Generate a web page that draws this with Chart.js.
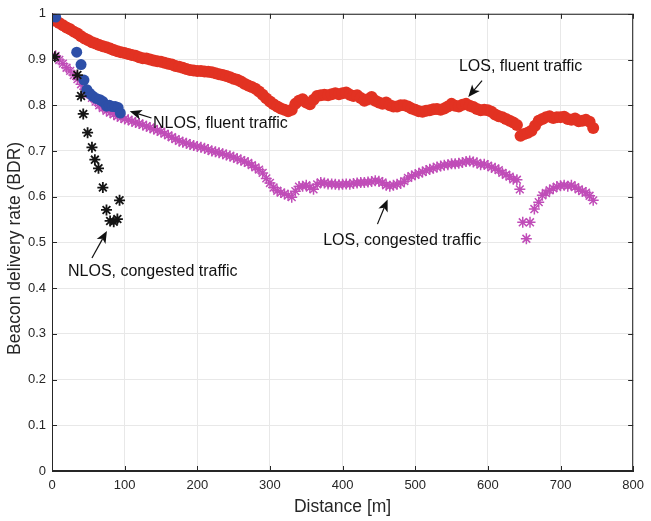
<!DOCTYPE html>
<html>
<head>
<meta charset="utf-8">
<script src="https://cdn.jsdelivr.net/npm/chart.js@4.4.1/dist/chart.umd.min.js"></script>
<style>
  html, body { margin: 0; padding: 0; background: #ffffff; }
  #bdr { display: block; }
</style>
</head>
<body>
<canvas id="bdr" width="651" height="521"></canvas>
<script>
// ---- dados ----
// LOS, fluent traffic (círculos vermelhos)
const losFluentDist = [
  0,5,10,15,20,25,30,35,40,45,
  50,55,60,65,70,75,80,85,90,95,
  100,105,110,115,120,125,130,135,140,145,
  150,155,160,165,170,175,180,185,190,195,
  200,205,210,215,220,225,230,235,240,245,
  250,255,260,265,270,275,280,285,290,295,
  300,305,310,315,320,325,330,335,340,345,
  350,355,360,365,370,375,380,385,390,395,
  400,405,410,415,420,425,430,435,440,445,
  450,455,460,465,470,475,480,485,490,495,
  500,505,510,515,520,525,530,535,540,545,
  550,555,560,565,570,575,580,585,590,595,
  600,605,610,615,620,625,630,635,640,645,
  650,655,660,665,670,675,680,685,690,695,
  700,705,710,715,720,725,730,735,740,745
];
const losFluentBdr = [
  0.990,0.985,0.980,0.975,0.970,0.966,0.961,0.957,0.951,0.946,
  0.942,0.938,0.935,0.932,0.929,0.927,0.924,0.921,0.918,0.916,
  0.914,0.912,0.910,0.908,0.905,0.903,0.902,0.900,0.898,0.896,
  0.895,0.893,0.891,0.889,0.886,0.884,0.882,0.879,0.877,0.876,
  0.875,0.875,0.874,0.873,0.872,0.870,0.868,0.866,0.864,0.861,
  0.858,0.856,0.852,0.847,0.843,0.840,0.836,0.830,0.823,0.815,
  0.808,0.802,0.797,0.793,0.790,0.787,0.790,0.803,0.810,0.813,
  0.806,0.802,0.812,0.820,0.822,0.823,0.822,0.824,0.826,0.824,
  0.826,0.828,0.823,0.820,0.822,0.816,0.810,0.813,0.818,0.810,
  0.806,0.803,0.806,0.800,0.797,0.797,0.800,0.800,0.797,0.793,
  0.790,0.787,0.786,0.788,0.789,0.791,0.792,0.790,0.793,0.797,
  0.803,0.799,0.797,0.801,0.803,0.799,0.796,0.792,0.789,0.790,
  0.789,0.786,0.780,0.776,0.774,0.770,0.766,0.762,0.757,0.733,
  0.737,0.740,0.744,0.755,0.766,0.770,0.774,0.776,0.772,0.774,
  0.774,0.775,0.770,0.768,0.771,0.765,0.766,0.768,0.764,0.750
];

// LOS, congested traffic (asteriscos roxos)
const losCongDist = [
  5,10,15,20,25,30,35,40,45,50,
  55,60,65,70,75,80,85,90,95,100,
  105,110,115,120,125,130,135,140,145,150,
  155,160,165,170,175,180,185,190,195,200,
  205,210,215,220,225,230,235,240,245,250,
  255,260,265,270,275,280,285,290,295,300,
  305,310,315,320,325,330,335,340,345,350,
  355,360,365,370,375,380,385,390,395,400,
  405,410,415,420,425,430,435,440,445,450,
  455,460,465,470,475,480,485,490,495,500,
  505,510,515,520,525,530,535,540,545,550,
  555,560,565,570,575,580,585,590,595,600,
  605,610,615,620,625,630,635,640,
  644,648,653,658,664,670,
  675,680,685,690,695,700,705,710,715,720,725,730,735,740,745
];
const losCongBdr = [
  0.908,0.899,0.891,0.882,0.875,0.866,0.857,0.846,0.835,0.825,
  0.816,0.808,0.800,0.794,0.788,0.784,0.780,0.776,0.773,0.770,
  0.768,0.765,0.762,0.760,0.757,0.754,0.751,0.748,0.745,0.742,
  0.738,0.734,0.730,0.726,0.722,0.719,0.717,0.714,0.712,0.710,
  0.708,0.706,0.703,0.700,0.698,0.696,0.694,0.691,0.689,0.686,
  0.683,0.680,0.677,0.674,0.669,0.664,0.659,0.652,0.640,0.630,
  0.620,0.613,0.609,0.606,0.603,0.599,0.612,0.622,0.623,0.625,
  0.620,0.616,0.627,0.631,0.630,0.628,0.628,0.627,0.626,0.627,
  0.628,0.627,0.629,0.630,0.631,0.631,0.632,0.633,0.635,0.634,
  0.631,0.625,0.623,0.625,0.627,0.629,0.634,0.641,0.645,0.648,
  0.651,0.654,0.657,0.660,0.662,0.665,0.667,0.669,0.670,0.672,
  0.672,0.673,0.675,0.677,0.678,0.676,0.674,0.670,0.671,0.668,
  0.664,0.662,0.658,0.652,0.648,0.644,0.638,0.637,
  0.616,0.544,0.508,0.544,0.573,0.588,
  0.603,0.608,0.614,0.618,0.622,0.624,0.625,0.623,0.625,0.621,0.616,0.612,0.609,0.602,0.592
];

// NLOS, fluent traffic (círculos azuis)
const nlosFluentDist = [5, 34, 40, 44, 48, 52, 56, 61, 66, 70, 75, 79, 83, 87, 91, 94];
const nlosFluentBdr = [0.993, 0.916, 0.889, 0.855, 0.834, 0.826, 0.820, 0.815, 0.812, 0.808, 0.798, 0.800, 0.797, 0.797, 0.795, 0.783];

// NLOS, congested traffic (asteriscos pretos)
const nlosCongDist = [4, 35, 40, 43, 49, 55, 59, 64, 70, 75, 80, 85, 90, 93];
const nlosCongBdr = [0.906, 0.866, 0.820, 0.781, 0.740, 0.708, 0.681, 0.662, 0.620, 0.571, 0.547, 0.545, 0.551, 0.592];

// rótulos das curvas (texto + seta), em unidades do gráfico
const curveLabels = [
  { text: 'NLOS, fluent traffic',    tx: 139, ty: 0.759, align: 'left',   ax1: 137, ay1: 0.772, ax2: 107, ay2: 0.787 },
  { text: 'LOS, fluent traffic',     tx: 645, ty: 0.885, align: 'center', ax1: 592, ay1: 0.854, ax2: 573, ay2: 0.818 },
  { text: 'LOS, congested traffic',  tx: 482, ty: 0.505, align: 'center', ax1: 448, ay1: 0.540, ax2: 462, ay2: 0.594 },
  { text: 'NLOS, congested traffic', tx: 22,  ty: 0.436, align: 'left',   ax1: 55,  ay1: 0.466, ax2: 75.6, ay2: 0.525 }
];

const xTicks = [0, 100, 200, 300, 400, 500, 600, 700, 800];
const yTicks = [0, 0.1, 0.2, 0.3, 0.4, 0.5, 0.6, 0.7, 0.8, 0.9, 1];

function toPoints(xs, ys) {
  return xs.map((x, i) => ({ x: x, y: ys[i] }));
}

// seta no estilo do matlab
function drawArrow(ctx, x1, y1, x2, y2) {
  const ang = Math.atan2(y2 - y1, x2 - x1);
  const L = 12, W = 5, N = 3;
  const cx = Math.cos(ang), sy = Math.sin(ang);
  ctx.beginPath();
  ctx.moveTo(x1, y1);
  ctx.lineTo(x2 - cx * (L - N), y2 - sy * (L - N));
  ctx.stroke();
  ctx.beginPath();
  ctx.moveTo(x2, y2);
  ctx.lineTo(x2 - cx * L - sy * W, y2 - sy * L + cx * W);
  ctx.lineTo(x2 - cx * (L - N), y2 - sy * (L - N));
  ctx.lineTo(x2 - cx * L + sy * W, y2 - sy * L - cx * W);
  ctx.closePath();
  ctx.fill();
}

const moldura = {
  id: 'moldura',
  afterDraw(chart) {
    const ctx = chart.ctx;
    const a = chart.chartArea;
    const xs = chart.scales.x, ys = chart.scales.y;
    ctx.save();
    ctx.strokeStyle = '#262626';
    ctx.lineWidth = 1;
    ctx.strokeRect(a.left + 0.5, a.top + 0.5, a.right - a.left - 1, a.bottom - a.top - 1);

    // marcas internas nos quatro lados
    ctx.beginPath();
    xTicks.forEach(v => {
      const p = Math.round(xs.getPixelForValue(v)) + 0.5;
      ctx.moveTo(p, a.bottom); ctx.lineTo(p, a.bottom - 5);
      ctx.moveTo(p, a.top); ctx.lineTo(p, a.top + 5);
    });
    yTicks.forEach(v => {
      const p = Math.round(ys.getPixelForValue(v)) + 0.5;
      ctx.moveTo(a.left, p); ctx.lineTo(a.left + 5, p);
      ctx.moveTo(a.right, p); ctx.lineTo(a.right - 5, p);
    });
    ctx.stroke();

    // títulos dos eixos
    ctx.fillStyle = '#262626';
    ctx.font = '17.5px "Liberation Sans", Arial, sans-serif';
    ctx.textAlign = 'center';
    ctx.textBaseline = 'middle';
    ctx.fillText('Distance [m]', (a.left + a.right) / 2, 507);
    ctx.save();
    ctx.translate(15, (a.top + a.bottom) / 2 + 6);
    ctx.rotate(-Math.PI / 2);
    ctx.fillText('Beacon delivery rate (BDR)', 0, 0);
    ctx.restore();

    // rótulos das curvas
    ctx.fillStyle = '#111111';
    ctx.strokeStyle = '#111111';
    ctx.lineWidth = 1.2;
    ctx.font = '16px "Liberation Sans", Arial, sans-serif';
    curveLabels.forEach(l => {
      ctx.textAlign = l.align;
      ctx.fillText(l.text, xs.getPixelForValue(l.tx), ys.getPixelForValue(l.ty));
      drawArrow(ctx,
        xs.getPixelForValue(l.ax1), ys.getPixelForValue(l.ay1),
        xs.getPixelForValue(l.ax2), ys.getPixelForValue(l.ay2));
    });
    ctx.restore();
  }
};

const ctxBdr = document.getElementById('bdr').getContext('2d');
const chartBdr = new Chart(ctxBdr, {
  type: 'scatter',
  data: {
    datasets: [
      {
        label: 'NLOS, congested traffic',
        data: toPoints(nlosCongDist, nlosCongBdr),
        pointStyle: 'star',
        pointRadius: 5.5,
        pointBorderWidth: 1.8,
        borderColor: '#151515',
        backgroundColor: '#151515',
        order: 0
      },
      {
        label: 'NLOS, fluent traffic',
        data: toPoints(nlosFluentDist, nlosFluentBdr),
        pointStyle: 'circle',
        pointRadius: 5.5,
        pointBorderWidth: 0,
        borderColor: '#2d4fa8',
        backgroundColor: '#2d4fa8',
        order: 1
      },
      {
        label: 'LOS, congested traffic',
        data: toPoints(losCongDist, losCongBdr),
        pointStyle: 'star',
        pointRadius: 5.5,
        pointBorderWidth: 1.5,
        borderColor: '#c04db8',
        backgroundColor: '#c04db8',
        order: 2
      },
      {
        label: 'LOS, fluent traffic',
        data: toPoints(losFluentDist, losFluentBdr),
        pointStyle: 'circle',
        pointRadius: 6,
        pointBorderWidth: 0,
        borderColor: '#e23222',
        backgroundColor: '#e23222',
        order: 3
      }
    ]
  },
  options: {
    responsive: false,
    animation: false,
    layout: { padding: { top: 10, right: 17, left: 0, bottom: 0 } },
    plugins: {
      legend: { display: false },
      tooltip: { enabled: false }
    },
    scales: {
      x: {
        type: 'linear',
        min: 0,
        max: 800,
        afterFit: s => { s.height = 50; },
        afterBuildTicks: s => { s.ticks = xTicks.map(v => ({ value: v })); },
        ticks: {
          padding: 7,
          color: '#262626',
          font: { size: 13, family: '"Liberation Sans", Arial, sans-serif' }
        },
        grid: { color: '#e8e8e8', drawTicks: false },
        border: { display: true, color: '#262626' }
      },
      y: {
        min: 0,
        max: 1,
        afterFit: s => { s.width = 52; },
        afterBuildTicks: s => { s.ticks = yTicks.map(v => ({ value: v })); },
        ticks: {
          padding: 6,
          color: '#262626',
          font: { size: 13, family: '"Liberation Sans", Arial, sans-serif' },
          callback: v => String(Math.round(v * 10) / 10)
        },
        grid: { color: '#e8e8e8', drawTicks: false },
        border: { display: true, color: '#262626' }
      }
    }
  },
  plugins: [moldura]
});
</script>
</body>
</html>
